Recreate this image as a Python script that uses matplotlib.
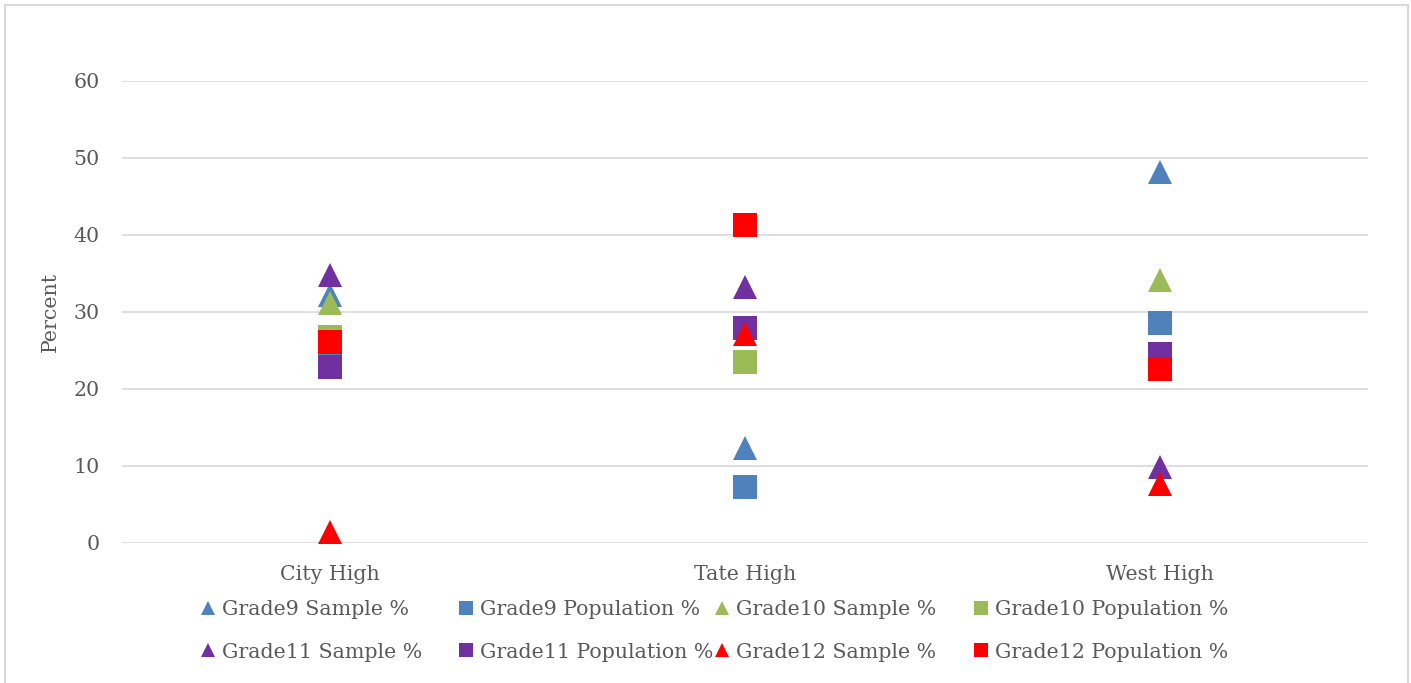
import matplotlib.pyplot as plt
from matplotlib.patches import Rectangle
from matplotlib.lines import Line2D

# -----------------------------
# Data (percent by school)
# -----------------------------
schools = ["City High", "Tate High", "West High"]

grade9_sample = [32.2, 12.3, 48.2]
grade9_pop = [24.0, 7.3, 28.6]
grade10_sample = [31.2, None, 34.2]
grade10_pop = [26.8, 23.5, None]
grade11_sample = [34.8, 33.3, 9.9]
grade11_pop = [22.9, 27.9, 24.5]
grade12_sample = [1.4, 27.1, 7.7]
grade12_pop = [26.1, 41.3, 22.6]

yticks = [0, 10, 20, 30, 40, 50, 60]

BLUE = "#4F81BD"
GREEN = "#9BBB59"
PURPLE = "#7030A0"
RED = "#FF0000"
TEXT = "#595959"
GRID = "#D9D9D9"
FS = 14.8

series = [
    ("Grade9 Sample %", grade9_sample, "^", BLUE),
    ("Grade9 Population %", grade9_pop, "s", BLUE),
    ("Grade10 Sample %", grade10_sample, "^", GREEN),
    ("Grade10 Population %", grade10_pop, "s", GREEN),
    ("Grade11 Sample %", grade11_sample, "^", PURPLE),
    ("Grade11 Population %", grade11_pop, "s", PURPLE),
    ("Grade12 Sample %", grade12_sample, "^", RED),
    ("Grade12 Population %", grade12_pop, "s", RED),
]

plt.rcParams["font.family"] = ["DejaVu Serif"]

fig = plt.figure(figsize=(14.11, 6.83), dpi=100)
ax = fig.add_axes([0.0865, 0.205, 0.883, 0.6765])

handles = {}
for label, vals, marker, color in series:
    xs = [i for i, v in enumerate(vals) if v is not None]
    ys = [v for v in vals if v is not None]
    ax.plot(xs, ys, linestyle="none", marker=marker, markersize=17,
            color=color, markeredgewidth=0, zorder=3)
    handles[label] = Line2D([], [], linestyle="none", marker=marker,
                            markersize=10, color=color, markeredgewidth=0)

ax.set_xlim(-0.5, 2.5)
ax.set_ylim(0, 60)
ax.set_xticks(range(len(schools)))
ax.set_xticklabels(schools)
ax.set_yticks(yticks)
ax.yaxis.grid(True, color=GRID, linewidth=1.2)
ax.set_axisbelow(True)
for s in ax.spines.values():
    s.set_visible(False)
ax.tick_params(axis="both", length=0, labelsize=FS, colors=TEXT)
ax.tick_params(axis="y", pad=16)
ax.tick_params(axis="x", pad=16)
ax.set_ylabel("Percent", fontsize=FS, color=TEXT, labelpad=10)

# legend: one small legend per column so columns sit like Excel's
columns = [
    ["Grade9 Sample %", "Grade11 Sample %"],
    ["Grade9 Population %", "Grade11 Population %"],
    ["Grade10 Sample %", "Grade12 Sample %"],
    ["Grade10 Population %", "Grade12 Population %"],
]
col_x = [202, 460, 716, 975]
for labels, x in zip(columns, col_x):
    leg = fig.legend([handles[k] for k in labels], labels, ncol=1,
                     loc="upper left", bbox_to_anchor=(x / 1411, 1 - 600 / 683),
                     frameon=False, fontsize=FS, handlelength=0.6,
                     handletextpad=0.35, labelspacing=1.15,
                     borderpad=0, borderaxespad=0)
    for t in leg.get_texts():
        t.set_color(TEXT)

# chart border
fig.patches.append(Rectangle((5 / 1411, -0.02), 1403 / 1411, (683 - 5) / 683 + 0.02,
                             transform=fig.transFigure, fill=False,
                             edgecolor=GRID, linewidth=1.5))

fig.savefig("out.png", dpi=100)
